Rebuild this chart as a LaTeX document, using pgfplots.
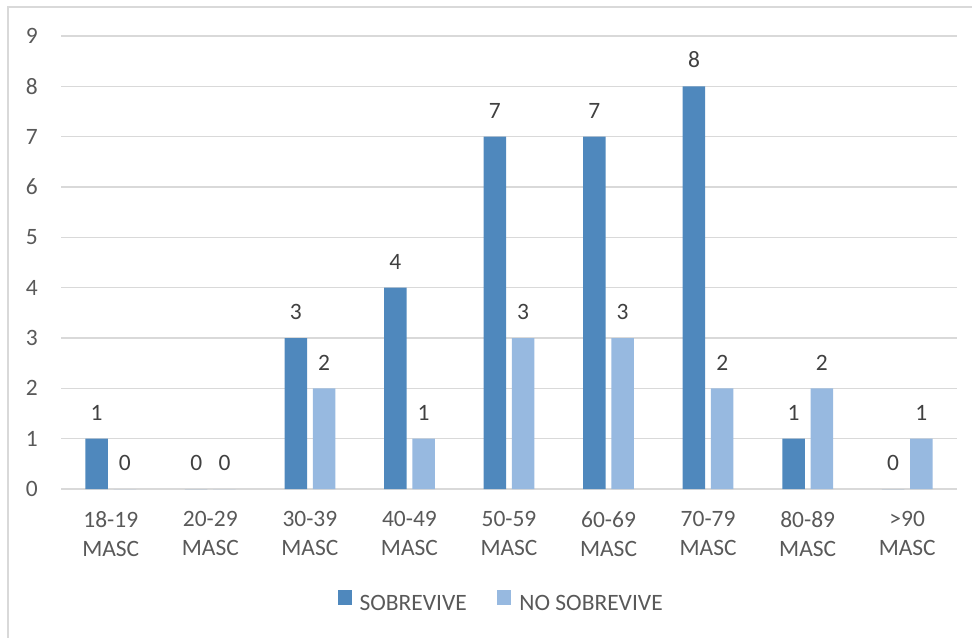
\documentclass[border=0pt]{standalone}
\usepackage{fontspec}
\setmainfont{Carlito}
\usepackage{pgfplots}
\pgfplotsset{compat=1.18}
\usepackage{pgfplotstable}

\definecolor{sobrevive}{RGB}{79,136,189}
\definecolor{nosobrevive}{RGB}{151,185,224}
\definecolor{gridgray}{RGB}{217,217,217}
\definecolor{ticktext}{RGB}{89,89,89}
\definecolor{valtext}{RGB}{64,64,64}

% age group, survivors, non-survivors
\pgfplotstableread{
idx sob nosob
0 1 0
1 0 0
2 3 2
3 4 1
4 7 3
5 7 3
6 8 2
7 1 2
8 0 1
}\datatable

\begin{document}
\begin{tikzpicture}[x=0.75pt,y=0.75pt]
\path[use as bounding box] (0,0) rectangle (972,637);
\draw[gridgray, line width=1.1pt] (8,-20) -- (8,630) -- (990,630);
\begin{axis}[
  at={(45.75pt,111pt)}, anchor=south west,
  scale only axis,
  width=672pt, height=339.75pt,
  font=\fontsize{17.6}{21.75}\selectfont,
  /pgf/number format/assume math mode=true,
  ybar=4.3pt,
  bar width=16.875pt,
  xmin=-0.5, xmax=8.5,
  ymin=0, ymax=9,
  ytick={0,1,...,9},
  xtick={0,...,8},
  xticklabels={{18-19\\MASC},{20-29\\MASC},{30-39\\MASC},{40-49\\MASC},{50-59\\MASC},{60-69\\MASC},{70-79\\MASC},{80-89\\MASC},{>90\\MASC}},
  xticklabel style={align=center, text=ticktext, inner sep=0pt, anchor=north, yshift=-16.5pt},
  yticklabel style={text=ticktext, inner sep=0pt, anchor=east, xshift=-17.25pt},
  major tick length=0pt,
  axis line style={draw=none},
  ymajorgrids,
  grid style={gridgray, line width=1pt},
  nodes near coords,
  every node near coord/.append style={text=valtext, anchor=south, inner sep=0pt, yshift=13.5pt},
  legend columns=2,
  legend style={at={(0.4916,-0.2506)}, anchor=center, draw=none, fill=none,
    text=ticktext, inner sep=0pt,
    /tikz/every odd column/.append style={column sep=4pt},
    /tikz/every even column/.append style={column sep=21pt}},
  legend image code/.code={\fill[#1] (0pt,-0.5pt) rectangle (10.5pt,10.5pt);},
]
\addplot[fill=sobrevive, draw=none] table[x=idx, y=sob] {\datatable};
\addlegendentry{SOBREVIVE}
\addplot[fill=nosobrevive, draw=none] table[x=idx, y=nosob] {\datatable};
\addlegendentry{NO SOBREVIVE}
\end{axis}
\end{tikzpicture}
\end{document}
